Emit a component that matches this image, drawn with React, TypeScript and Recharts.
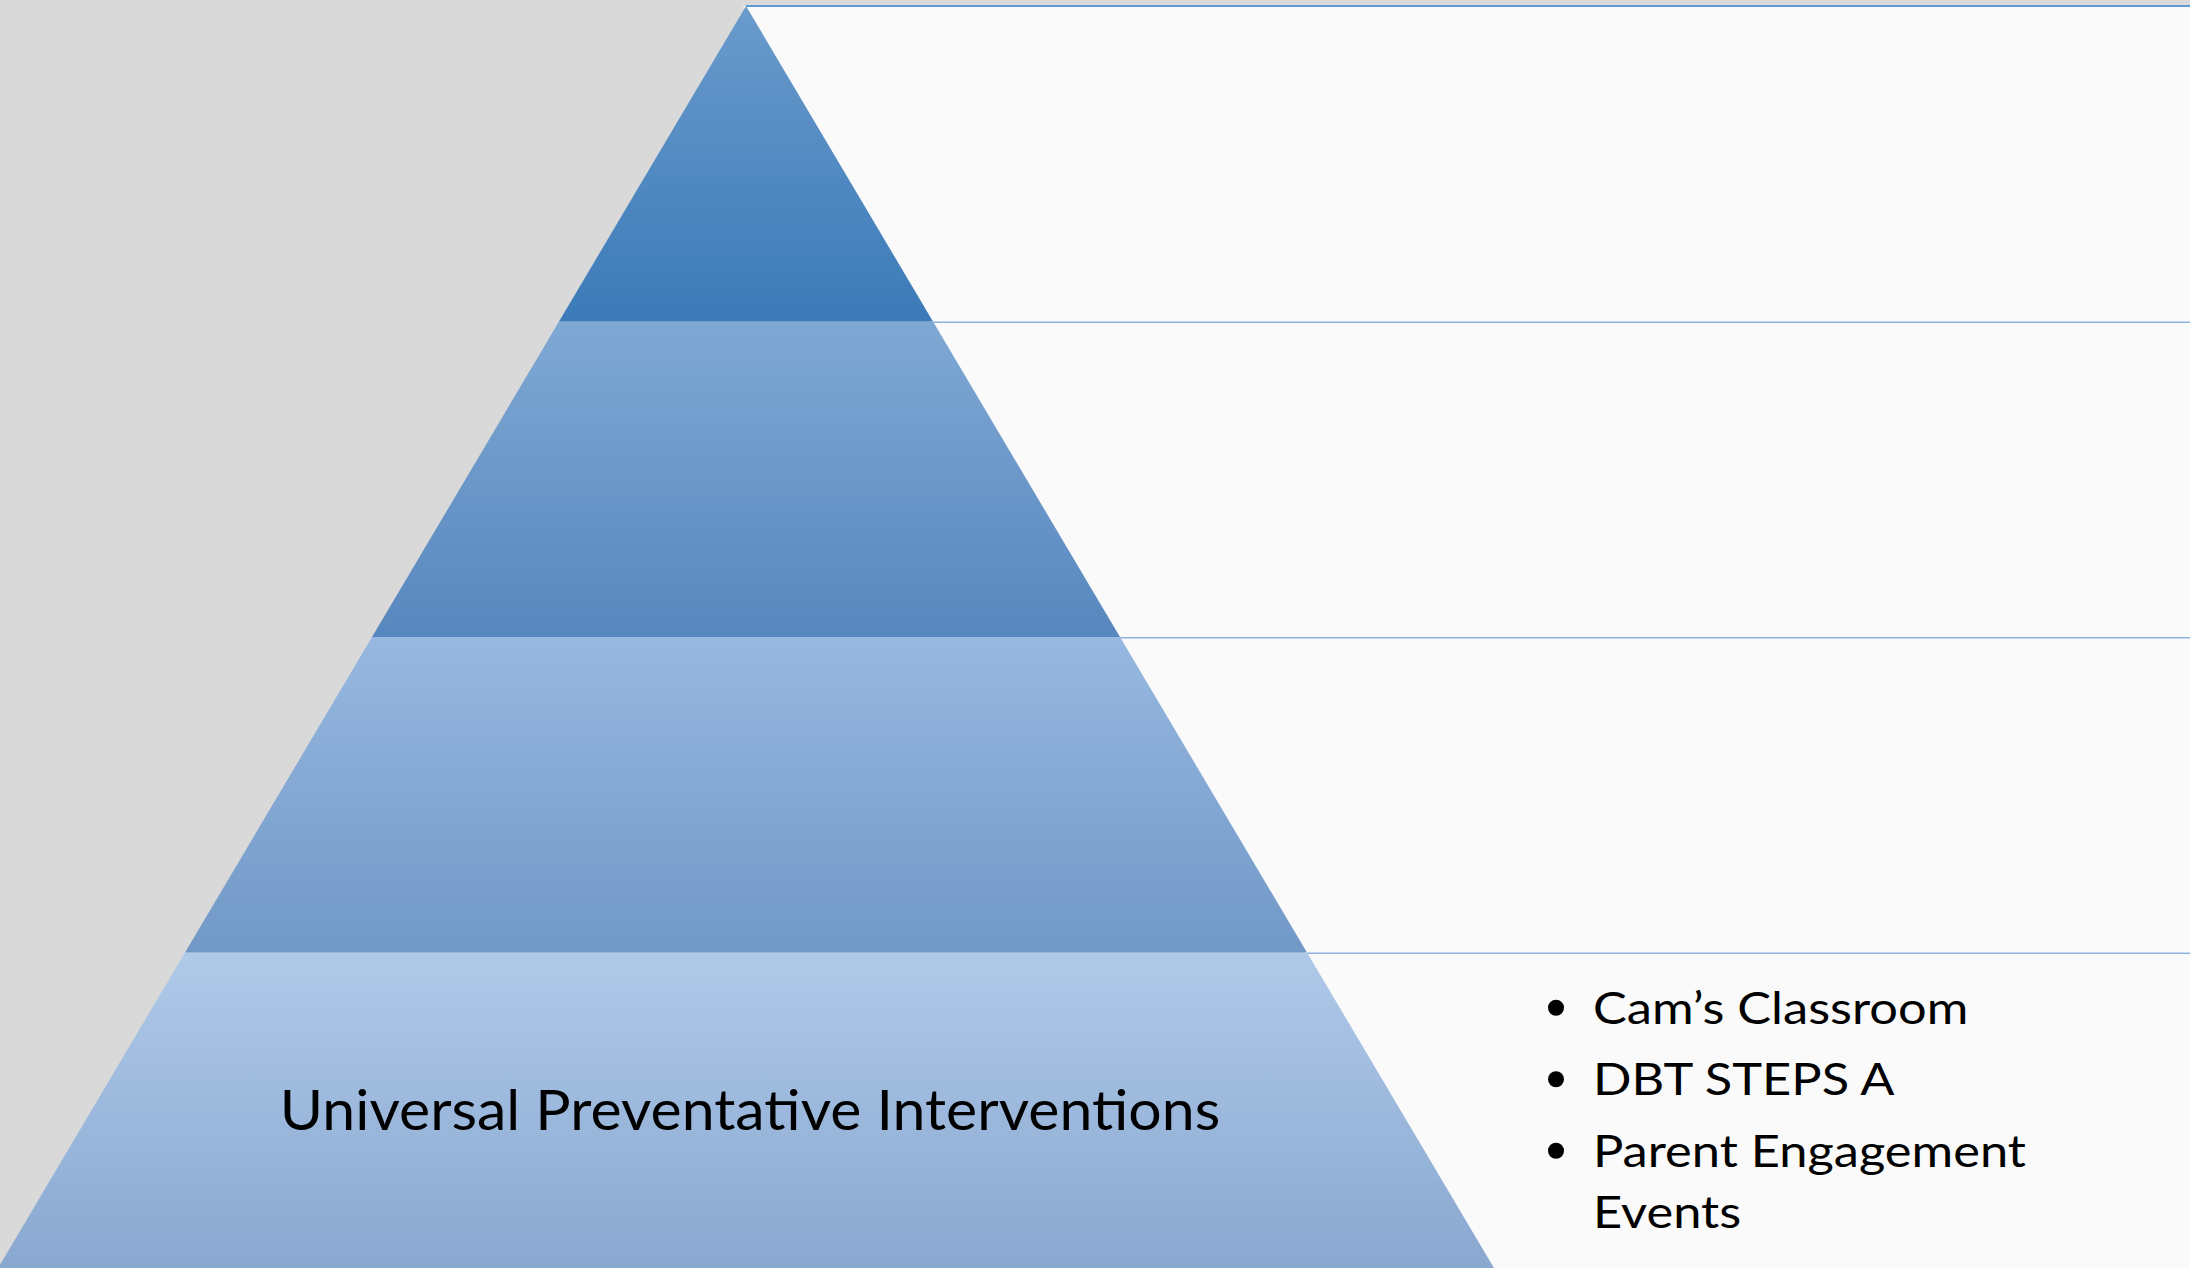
import React from 'react';
import { FunnelChart, Funnel, Cell } from 'recharts';

// ---- data (bottom tier first; funnel is reversed into a pyramid) ----
const tierNames = ['Tier 1', 'Tier 2', 'Tier 3', 'Tier 4'];
const tierValues = [4, 3, 2, 1];
const tierTitles = ['Universal Preventative Interventions', '', '', ''];
const tierItems: string[][][] = [
  [['Cam\u2019s Classroom'], ['DBT STEPS A'], ['Parent Engagement', 'Events']],
  [],
  [],
  [],
];
const tierTopColors = ['#AFC9E9', '#97B8E0', '#7FA8D4', '#6A9BCC'];
const tierBottomColors = ['#89A8D0', '#7198C7', '#5787BE', '#3B7AB8'];

const CHART_W = 2190;
const CHART_H = 1268;
const FONT = 'Lato, "Open Sans", sans-serif';

const tiers = tierValues.map((v, i) => ({
  name: tierNames[i],
  value: v,
  title: tierTitles[i],
  items: tierItems[i],
  idx: i,
}));

const renderTier = (props: any) => {
  const { x, y, upperWidth, lowerWidth, height, fill } = props;
  const entry = props.payload && props.payload.title !== undefined ? props.payload : props;
  const title: string = entry.title || '';
  const items: string[][] = entry.items || [];
  const isTop = entry.idx === tierValues.length - 1;
  const gap = (upperWidth - lowerWidth) / 2;
  const d = `M${x},${y} L${x + upperWidth},${y} L${x + upperWidth - gap},${y + height} L${x + gap},${y + height} Z`;
  const cx = x + upperWidth / 2;
  const cy = y + height / 2;
  const rightTop = x + upperWidth;
  const bottomRight = x + upperWidth - gap;
  const panel = `M${rightTop - 3},${y} L${CHART_W},${y} L${CHART_W},${y + height} L${bottomRight - 3},${y + height} Z`;

  // bullets layout
  const itemGap = 71.5;
  const wrapGap = 61;
  const lines: { text: string; bullet: boolean; dy: number }[] = [];
  let off = 0;
  items.forEach((item, ii) => {
    if (ii > 0) off += itemGap;
    item.forEach((t, li) => {
      if (li > 0) off += wrapGap;
      lines.push({ text: t, bullet: li === 0, dy: off });
    });
  });
  const capB = 31;
  const firstBase = cy - (off - capB) / 2;
  const textX = bottomRight + 99;

  return (
    <g>
      <path d={panel} fill="#FAFAFA" />
      <line
        x1={rightTop}
        y1={y + (isTop ? 0 : 0.5)}
        x2={CHART_W}
        y2={y + (isTop ? 0 : 0.5)}
        stroke={isTop ? '#5F9BD4' : '#8DB2E0'}
        strokeWidth={2}
      />
      <path d={d} fill={fill} stroke="none" />
      {title ? (
        <text
          transform={`translate(${cx + 4},${cy + 20}) scale(1.035,1)`}
          x={0}
          y={0}
          textAnchor="middle"
          fontFamily={FONT}
          fontSize={57}
          fill="#000"
        >
          {title}
        </text>
      ) : null}
      {lines.map((l, k) => (
        <g key={k}>
          {l.bullet ? <circle cx={textX - 37} cy={firstBase + l.dy - 16} r={8} fill="#000" /> : null}
          <text
            transform={`translate(${textX},${firstBase + l.dy}) scale(1.15,1)`}
            x={0}
            y={0}
            fontFamily={FONT}
            fontSize={44}
            fill="#000"
          >
            {l.text}
          </text>
        </g>
      ))}
    </g>
  );
};

export default function App() {
  return (
    <div style={{ width: CHART_W, height: CHART_H, background: '#D9D9D9' }}>
      <style>{`body{margin:0;}`}</style>
      <FunnelChart
        width={CHART_W}
        height={CHART_H}
        margin={{ top: 6, right: 696, bottom: 0, left: -2 }}
      >
        <defs>
          {tiers.map((t, i) => (
            <linearGradient key={i} id={`tierGrad${i}`} x1="0" y1="0" x2="0" y2="1">
              <stop offset="0%" stopColor={tierTopColors[i]} />
              <stop offset="100%" stopColor={tierBottomColors[i]} />
            </linearGradient>
          ))}
        </defs>
        <Funnel
          data={tiers}
          dataKey="value"
          nameKey="name"
          reversed
          lastShapeType="triangle"
          isAnimationActive={false}
          shape={renderTier}
        >
          {tiers.map((t, i) => (
            <Cell key={i} fill={`url(#tierGrad${i})`} />
          ))}
        </Funnel>
      </FunnelChart>
    </div>
  );
}
